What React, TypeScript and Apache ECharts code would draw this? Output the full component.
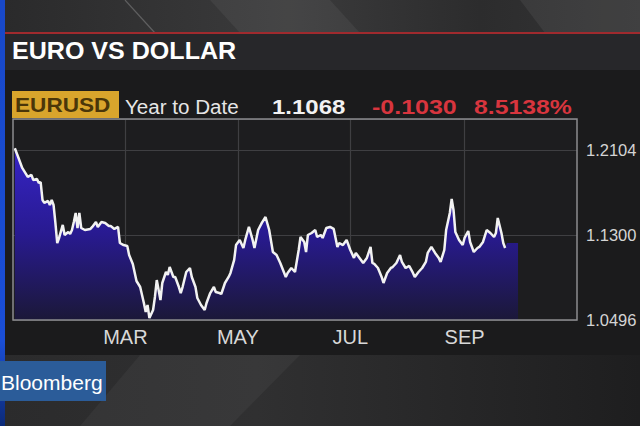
import React, { useEffect, useRef } from "react";
import * as echarts from "echarts";

// ---- data (EUR/USD, year to date) ----
const dates = [
  "2014-12-31","2015-01-02","2015-01-04","2015-01-07","2015-01-09","2015-01-10","2015-01-12","2015-01-13","2015-01-14","2015-01-15",
  "2015-01-16","2015-01-18","2015-01-19","2015-01-20","2015-01-21","2015-01-22","2015-01-23","2015-01-24","2015-01-26","2015-01-27",
  "2015-01-29","2015-01-30","2015-01-31","2015-02-01","2015-02-02","2015-02-03","2015-02-04","2015-02-05","2015-02-07","2015-02-10",
  "2015-02-11","2015-02-13","2015-02-14","2015-02-16","2015-02-18","2015-02-20","2015-02-21","2015-02-23","2015-02-25","2015-02-26",
  "2015-02-28","2015-03-02","2015-03-03","2015-03-05","2015-03-07","2015-03-09","2015-03-11","2015-03-12","2015-03-13","2015-03-14",
  "2015-03-16","2015-03-17","2015-03-18","2015-03-20","2015-03-21","2015-03-23","2015-03-24","2015-03-25","2015-03-27","2015-03-28",
  "2015-03-30","2015-03-31","2015-04-01","2015-04-03","2015-04-05","2015-04-06","2015-04-08","2015-04-09","2015-04-11","2015-04-13",
  "2015-04-14","2015-04-16","2015-04-18","2015-04-19","2015-04-21","2015-04-22","2015-04-24","2015-04-26","2015-04-27","2015-04-29",
  "2015-04-30","2015-05-02","2015-05-04","2015-05-05","2015-05-07","2015-05-09","2015-05-10","2015-05-12","2015-05-14","2015-05-16",
  "2015-05-18","2015-05-20","2015-05-22","2015-05-24","2015-05-27","2015-05-28","2015-05-30","2015-06-01","2015-06-03","2015-06-04",
  "2015-06-06","2015-06-07","2015-06-08","2015-06-10","2015-06-12","2015-06-13","2015-06-15","2015-06-16","2015-06-18","2015-06-20",
  "2015-06-22","2015-06-24","2015-06-25","2015-06-27","2015-06-29","2015-07-01","2015-07-03","2015-07-04","2015-07-06","2015-07-08",
  "2015-07-10","2015-07-12","2015-07-13","2015-07-14","2015-07-16","2015-07-18","2015-07-19","2015-07-21","2015-07-23","2015-07-24",
  "2015-07-26","2015-07-28","2015-07-29","2015-07-31","2015-08-02","2015-08-04","2015-08-05","2015-08-07","2015-08-09","2015-08-11",
  "2015-08-12","2015-08-14","2015-08-16","2015-08-18","2015-08-19","2015-08-21","2015-08-22","2015-08-24","2015-08-25","2015-08-26",
  "2015-08-27","2015-08-29","2015-08-31","2015-09-01","2015-09-03","2015-09-04","2015-09-06","2015-09-08","2015-09-09","2015-09-11",
  "2015-09-13","2015-09-15","2015-09-17","2015-09-18","2015-09-19","2015-09-21","2015-09-22","2015-09-23",
];

const eurusd = [
  1.2120,1.2028,1.1934,1.1849,1.1868,1.1820,1.1830,1.1792,1.1801,1.1631,
  1.1603,1.1622,1.1584,1.1631,1.1584,1.1414,1.1224,1.1272,1.1395,1.1300,
  1.1328,1.1310,1.1347,1.1423,1.1508,1.1366,1.1508,1.1366,1.1347,1.1357,
  1.1376,1.1423,1.1376,1.1423,1.1414,1.1385,1.1385,1.1357,1.1376,1.1224,
  1.1205,1.1196,1.1111,1.1026,1.0865,1.0808,1.0657,1.0572,1.0638,1.0515,
  1.0591,1.0714,1.0874,1.0685,1.0846,1.0950,1.0922,1.0997,1.0903,1.0903,
  1.0808,1.0751,1.0808,1.0950,1.0988,1.0903,1.0808,1.0704,1.0638,1.0591,
  1.0657,1.0751,1.0808,1.0761,1.0751,1.0742,1.0846,1.0903,1.0941,1.1064,
  1.1205,1.1253,1.1177,1.1253,1.1376,1.1253,1.1177,1.1347,1.1414,1.1470,
  1.1347,1.1139,1.1111,1.1035,1.0903,1.0941,1.0988,1.0950,1.1158,1.1281,
  1.1234,1.1139,1.1300,1.1319,1.1347,1.1281,1.1300,1.1272,1.1366,1.1376,
  1.1357,1.1187,1.1224,1.1205,1.1253,1.1158,1.1083,1.1130,1.1083,1.1035,
  1.1083,1.1187,1.1035,1.1026,1.0988,1.0903,1.0846,1.0941,1.0988,1.0997,
  1.1035,1.1111,1.1045,1.0988,1.1007,1.0941,1.0903,1.0950,1.0988,1.1045,
  1.1130,1.1187,1.1130,1.1083,1.1045,1.1158,1.1347,1.1508,1.1641,1.1537,
  1.1328,1.1253,1.1205,1.1272,1.1338,1.1234,1.1139,1.1177,1.1187,1.1234,
  1.1347,1.1319,1.1281,1.1319,1.1461,1.1319,1.1224,1.1177,
];

// the shaded area runs a little past the end of the line
const fillTailDates = ["2015-09-24", "2015-09-30"];
const fillTailValues = [1.1224, 1.1224];

const monthTicks = ["2015-03-01", "2015-05-01", "2015-07-01", "2015-09-01"];
const monthLabels = ["MAR", "MAY", "JUL", "SEP"];

const yTickMin = 1.0496;
const yTickStep = 0.0804;
const yMax = 1.2397;

const header = {
  title: "EURO VS DOLLAR",
  ticker: "EURUSD",
  period: "Year to Date",
  last: "1.1068",
  change: "-0.1030",
  pct: "8.5138%",
};

const FONT = '"Liberation Sans", Arial, sans-serif';

function buildCategories(): string[] {
  const out: string[] = [];
  const start = Date.UTC(2014, 11, 30);
  const end = Date.UTC(2015, 10, 1);
  for (let t = start; t <= end; t += 86400000) {
    out.push(new Date(t).toISOString().slice(0, 10));
  }
  return out;
}

export default function App() {
  const ref = useRef<HTMLDivElement>(null);

  useEffect(() => {
    if (!ref.current) return;
    const chart = echarts.init(ref.current, undefined, { renderer: "svg" });
    const cats = buildCategories();
    const lineData = dates.map((d, i) => [d, eurusd[i]]);
    const fillData = lineData.concat(fillTailDates.map((d, i) => [d, fillTailValues[i]]));

    const isMonthTick = (_i: number, v: string) => monthTicks.indexOf(v) >= 0;

    const option: any = {
      animation: false,
      backgroundColor: "#1b1b1c",
      grid: {
        left: 13,
        right: 63,
        top: 119,
        bottom: 106,
        show: true,
        backgroundColor: "#1d1d1f",
        borderWidth: 0,
        outerBoundsMode: "none",
      },
      xAxis: {
        type: "category",
        data: cats,
        boundaryGap: false,
        axisLine: { show: false },
        axisTick: { show: false },
        axisLabel: {
          interval: isMonthTick,
          formatter: (v: string) => {
            const k = monthTicks.indexOf(v);
            return k >= 0 ? monthLabels[k] : "";
          },
          color: "#d8d8d8",
          fontSize: 20,
          fontFamily: FONT,
          margin: 7,
        },
        splitLine: {
          show: true,
          interval: isMonthTick,
          lineStyle: { color: "#3f3f42", width: 1.2 },
        },
      },
      yAxis: {
        type: "value",
        position: "right",
        min: yTickMin,
        max: yMax,
        interval: yTickStep,
        axisLine: { show: false },
        axisTick: { show: false },
        axisLabel: {
          showMaxLabel: false,
          formatter: (v: number) => v.toFixed(4),
          color: "#d4d4d4",
          fontSize: 16.5,
          fontFamily: FONT,
          margin: 9,
        },
        splitLine: { show: true, lineStyle: { color: "#3f3f42", width: 1.2 } },
      },
      series: [
        {
          type: "line",
          data: fillData,
          symbol: "none",
          silent: true,
          z: 1,
          lineStyle: { width: 0 },
          areaStyle: {
            opacity: 1,
            color: new echarts.graphic.LinearGradient(0, 0, 0, 1, [
              { offset: 0, color: "#3624c6" },
              { offset: 0.5, color: "#281a90" },
              { offset: 1, color: "#1b1838" },
            ]),
          },
        },
        {
          type: "line",
          data: lineData,
          symbol: "none",
          silent: true,
          z: 3,
          lineStyle: { color: "#f2f2f2", width: 2.5 },
        },
      ],
      graphic: [
        // top decorative band
        {
          type: "rect",
          z: 0,
          shape: { x: 0, y: 0, width: 640, height: 33 },
          style: {
            fill: new echarts.graphic.LinearGradient(0, 0, 1, 0, [
              { offset: 0, color: "#2a2a2b" },
              { offset: 0.45, color: "#3b3b3c" },
              { offset: 0.75, color: "#2c2c2d" },
              { offset: 1, color: "#353536" },
            ]),
          },
        },
        {
          type: "polygon",
          z: 0,
          shape: { points: [[210, 0], [330, 0], [360, 33], [240, 33]] },
          style: { fill: "rgba(255,255,255,0.05)" },
        },
        {
          type: "polygon",
          z: 0,
          shape: { points: [[520, 0], [640, 0], [640, 33], [545, 33]] },
          style: { fill: "rgba(255,255,255,0.06)" },
        },
        {
          type: "line",
          z: 0,
          shape: { x1: 125, y1: 0, x2: 155, y2: 33 },
          style: { stroke: "rgba(255,255,255,0.22)", lineWidth: 1.2 },
        },
        // red rule
        {
          type: "rect",
          z: 1,
          shape: { x: 0, y: 32, width: 640, height: 2 },
          style: { fill: "#a02a2e" },
        },
        // title bar
        {
          type: "rect",
          z: 0,
          shape: { x: 0, y: 34, width: 640, height: 36 },
          style: { fill: "#27272a" },
        },
        // bottom decorative band
        {
          type: "rect",
          z: 0,
          shape: { x: 0, y: 355, width: 640, height: 71 },
          style: {
            fill: new echarts.graphic.LinearGradient(0, 0, 1, 0, [
              { offset: 0, color: "#2b2b2c" },
              { offset: 0.4, color: "#303031" },
              { offset: 1, color: "#1e1e1f" },
            ]),
          },
        },
        {
          type: "polygon",
          z: 0,
          shape: { points: [[140, 355], [300, 355], [230, 426], [80, 426]] },
          style: { fill: "rgba(255,255,255,0.04)" },
        },
        // left blue strip
        {
          type: "rect",
          z: 2,
          shape: { x: 0, y: 0, width: 5, height: 426 },
          style: {
            fill: new echarts.graphic.LinearGradient(0, 0, 0, 1, [
              { offset: 0, color: "#1848c8" },
              { offset: 0.8, color: "#1a4ed6" },
              { offset: 1, color: "#0c2a78" },
            ]),
          },
        },
        // Bloomberg logo box
        {
          type: "rect",
          z: 3,
          shape: { x: 0, y: 361, width: 106, height: 40 },
          style: { fill: "#2b5c99" },
        },
        {
          type: "text",
          z: 4,
          x: 1,
          y: 382,
          style: { text: "Bloomberg", fill: "#ffffff", font: `500 21px ${FONT}`, verticalAlign: "middle" },
        },
        // title
        {
          type: "text",
          z: 4,
          x: 12,
          y: 51,
          scaleX: 1.09,
          style: { text: header.title, fill: "#ffffff", font: `bold 23px ${FONT}`, verticalAlign: "middle" },
        },
        // ticker box
        {
          type: "rect",
          z: 3,
          shape: { x: 12, y: 91, width: 107, height: 27 },
          style: { fill: "#d9a52c" },
        },
        {
          type: "text",
          z: 4,
          x: 15,
          y: 105,
          scaleX: 1.13,
          style: { text: header.ticker, fill: "#4a3609", font: `bold 20px ${FONT}`, verticalAlign: "middle" },
        },
        {
          type: "text",
          z: 4,
          x: 125,
          y: 107,
          scaleX: 1.03,
          style: { text: header.period, fill: "#e6e6e6", font: `20px ${FONT}`, verticalAlign: "middle" },
        },
        {
          type: "text",
          z: 4,
          x: 272,
          y: 107,
          scaleX: 1.2,
          style: { text: header.last, fill: "#f2f2f2", font: `bold 20px ${FONT}`, verticalAlign: "middle" },
        },
        {
          type: "text",
          z: 4,
          x: 372,
          y: 107,
          scaleX: 1.25,
          style: { text: header.change, fill: "#d8353e", font: `bold 20px ${FONT}`, verticalAlign: "middle" },
        },
        {
          type: "text",
          z: 4,
          x: 474,
          y: 107,
          scaleX: 1.24,
          style: { text: header.pct, fill: "#d8353e", font: `bold 20px ${FONT}`, verticalAlign: "middle" },
        },
        // plot frame (drawn over the shaded area)
        {
          type: "rect",
          z: 100,
          shape: { x: 13, y: 119, width: 564, height: 201 },
          style: { fill: "none", stroke: "#8c8c8f", lineWidth: 1.5 },
        },
      ],
    };

    chart.setOption(option);
    return () => chart.dispose();
  }, []);

  return (
    <div
      ref={ref}
      style={{ position: "fixed", left: 0, top: 0, width: 640, height: 426 }}
    />
  );
}
